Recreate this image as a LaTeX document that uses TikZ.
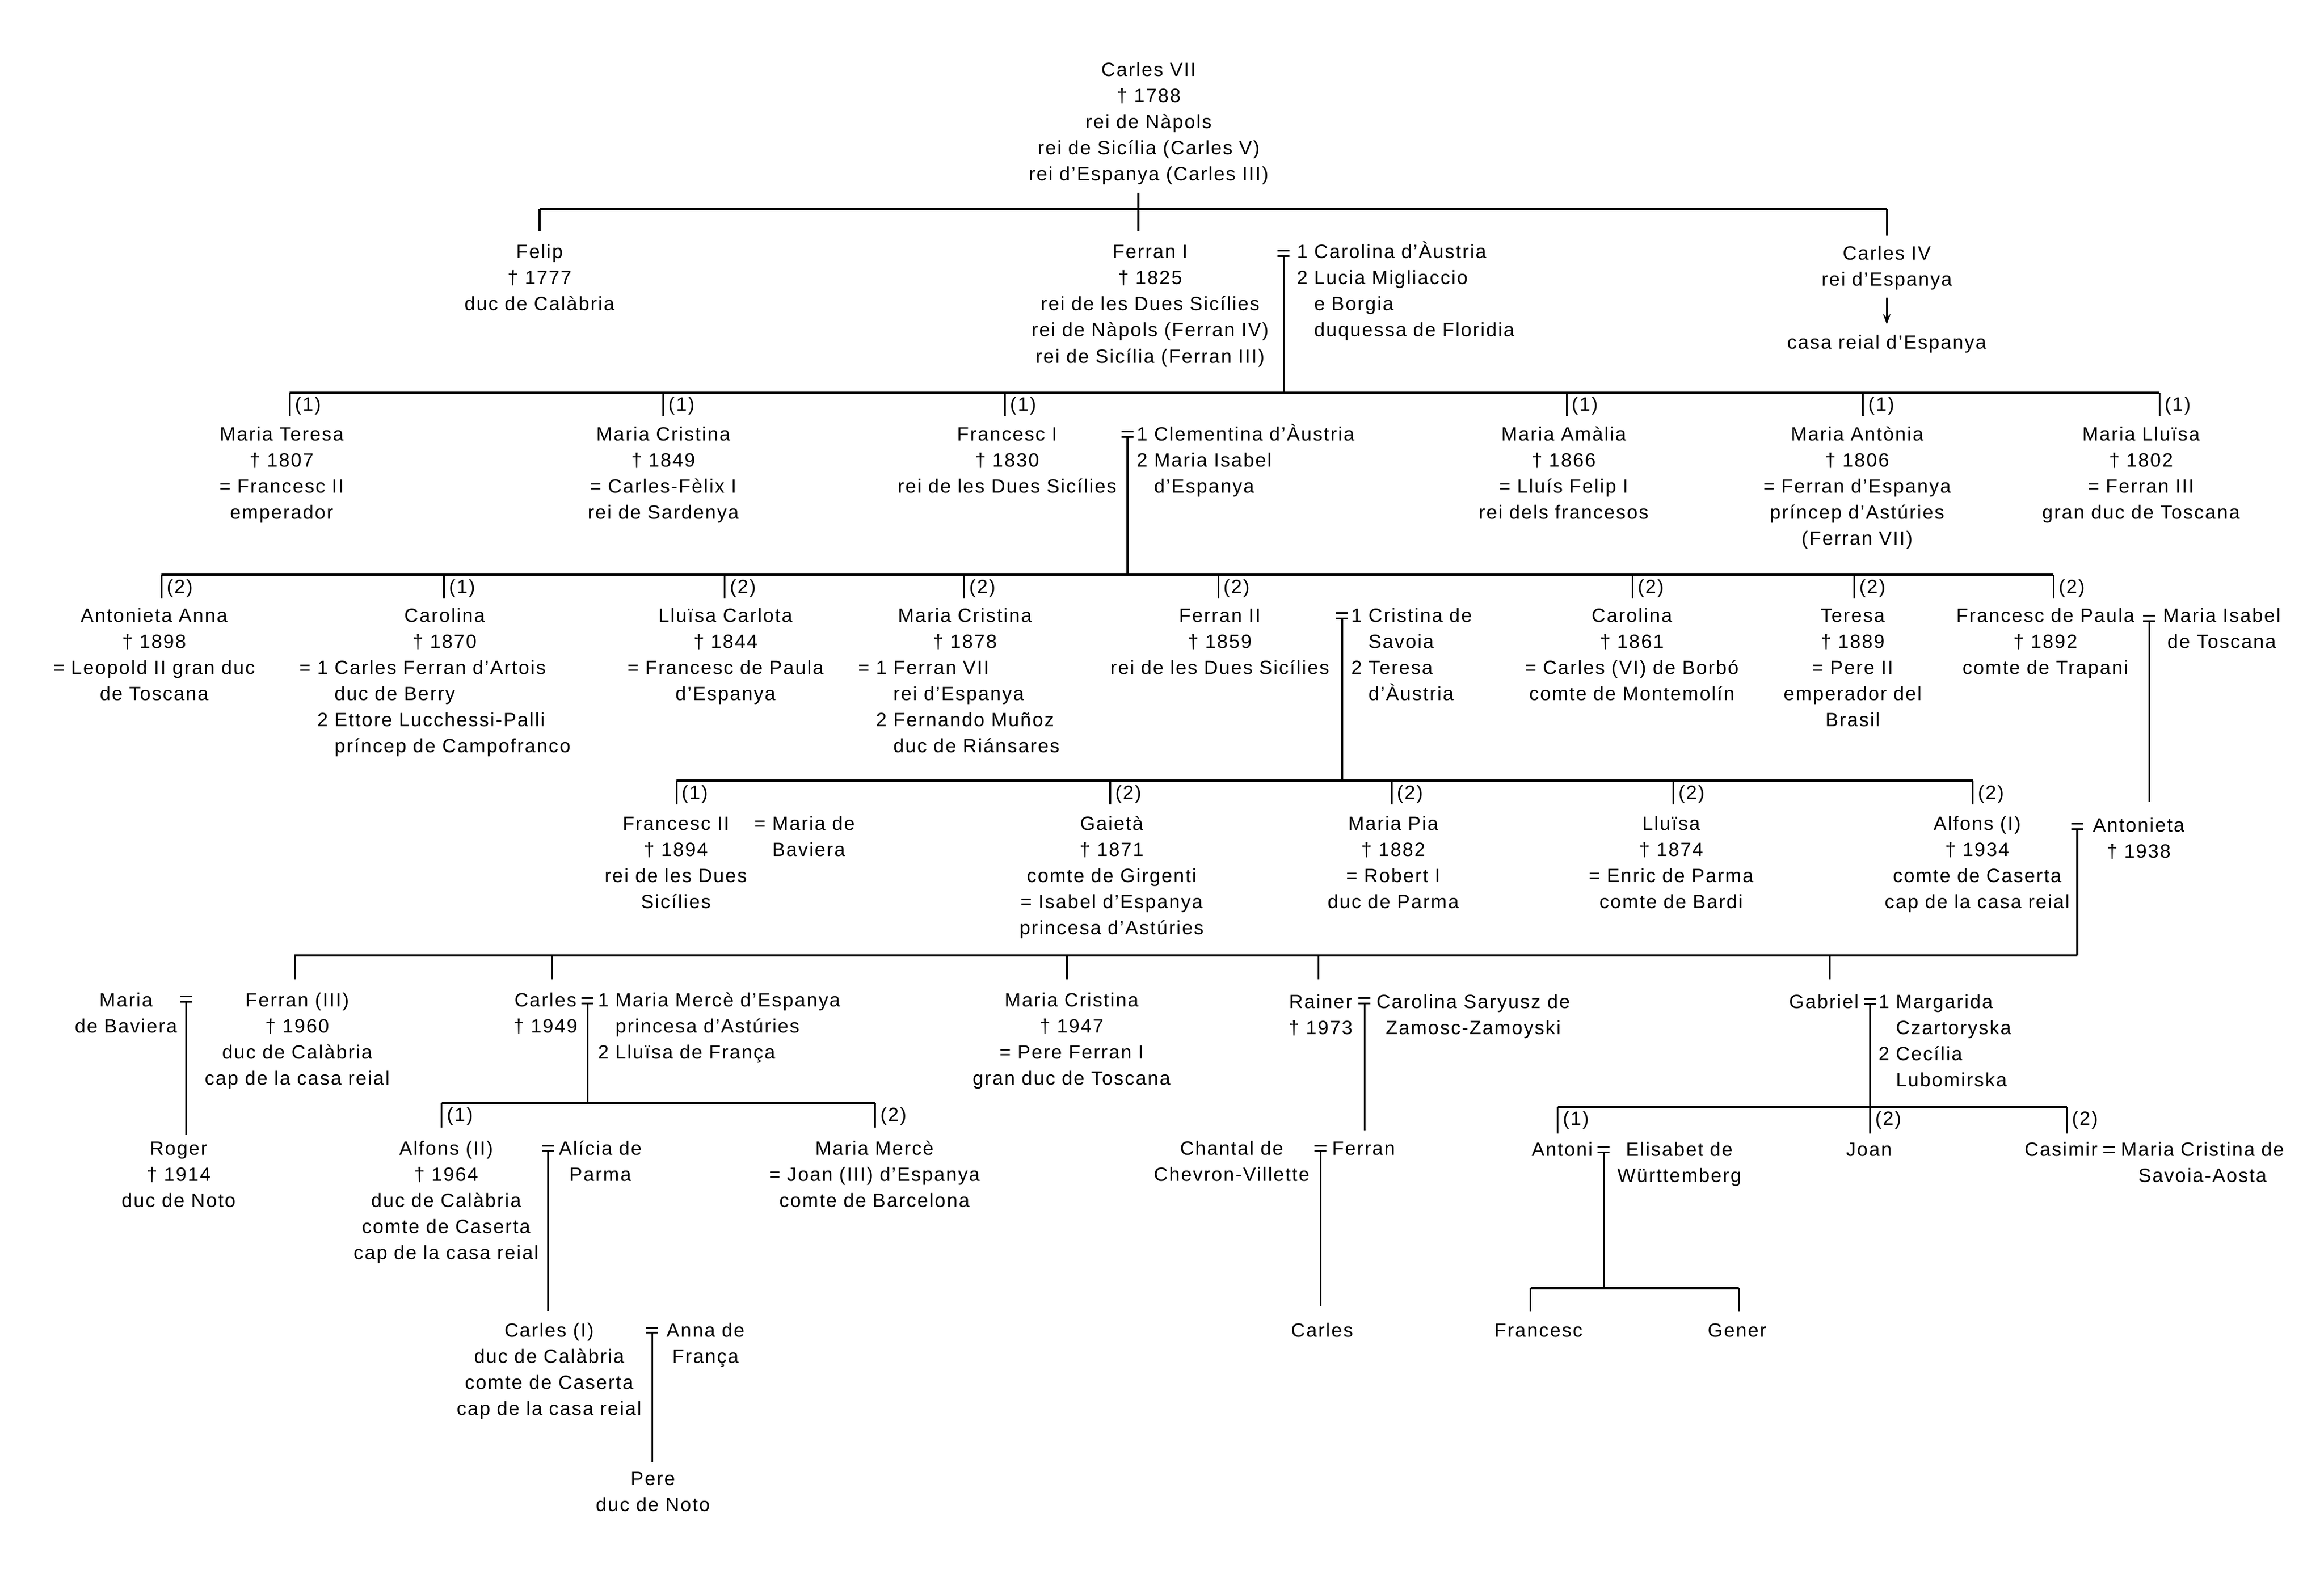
\documentclass[tikz,border=0pt]{standalone}
\usepackage{fontspec}
\setmainfont[LetterSpace=6.5]{Liberation Sans}
\usetikzlibrary{arrows.meta}
\newcommand\blk[2][c]{\begin{tabular}[t]{@{}#1@{}}#2\end{tabular}}
\begin{document}
\begin{tikzpicture}[x=1pt,y=-1pt,
  every node/.style={inner sep=0pt,outer sep=0pt,font=\fontsize{13}{17.6}\selectfont},
  pers/.style={anchor=base},
  spl/.style={anchor=base west},
  lab/.style={anchor=base west},
  ln/.style={line width=1.2pt},
  barline/.style={line width=1.5pt},
  marr/.pic={\draw[line width=1.1pt] (-4,0) -- (4,0) (-4,-3.6) -- (4,-3.6);}
]
\fill[white] (0,0) rectangle (1568,1061.7);
\useasboundingbox (0,0) rectangle (1568,1061.7);

% ---------- generation 0 ----------
\node[pers] (cVII) at (775,51.5) {\blk{Carles VII\\† 1788\\rei de Nàpols\\rei de Sicília (Carles V)\\rei d’Espanya (Carles III)}};
\coordinate (cVIIb) at (768,130);
\coordinate (cVIId) at (768,156);
\coordinate (b1L) at (364,141);
\coordinate (b1R) at (1273,141);
\draw[barline] (b1L) -- (b1R);
\draw[ln] (cVIIb) -- (cVIId);
\draw[ln] (b1L) -- ++(0,15);
\draw[ln] (b1R) -- ++(0,18);

% ---------- generation 1 ----------
\node[pers] (felip) at (364,174.5) {\blk{Felip\\† 1777\\duc de Calàbria}};
\node[pers] (ferranI) at (776,174.5) {\blk{Ferran I\\† 1825\\rei de les Dues Sicílies\\rei de Nàpols (Ferran IV)\\rei de Sicília (Ferran III)}};
\node[spl] (ferranIsp) at (875,174.5) {\blk[l]{1 Carolina d’Àustria\\2 Lucia Migliaccio\\\phantom{2 }e Borgia\\\phantom{2 }duquessa de Floridia}};
\coordinate (mFI) at (866,172.8);
\pic at (mFI) {marr};
\node[pers] (carlesIV) at (1273,175.5) {\blk{Carles IV\\rei d’Espanya}};
\coordinate (arA) at (1273,201);
\coordinate (arB) at (1273,219);
\draw[ln,-{Stealth[length=7pt,width=5pt]}] (arA) -- (arB);
\node[pers] (casaEsp) at (1273,235.5) {casa reial d’Espanya};

% bar 2
\coordinate (b2L) at (195.5,265);
\coordinate (b2R) at (1457,265);
\draw[barline] (b2L) -- (b2R);
\draw[ln] (mFI) -- (mFI |- b2L);
\foreach \x/\n [count=\i] in {195.5/1,447.5/1,678/1,1057/1,1257/1,1457/1}{
  \draw[ln] (\x,265) -- (\x,281);
  \node[lab] (labB\i) at (\x+3.5,277.5) {(\n)};
}

% ---------- generation 2 ----------
\node[pers] (mTeresa) at (190,297.5) {\blk{Maria Teresa\\† 1807\\= Francesc II\\emperador}};
\node[pers] (mCristinaA) at (447.5,297.5) {\blk{Maria Cristina\\† 1849\\= Carles-Fèlix I\\rei de Sardenya}};
\node[pers] (francescI) at (679.5,297.5) {\blk{Francesc I\\† 1830\\rei de les Dues Sicílies}};
\node[spl] (francescIsp) at (767,297.5) {\blk[l]{1 Clementina d’Àustria\\2 Maria Isabel\\\phantom{2 }d’Espanya}};
\coordinate (mFrI) at (760.7,294.8);
\pic at (mFrI) {marr};
\node[pers] (mAmalia) at (1055,297.5) {\blk{Maria Amàlia\\† 1866\\= Lluís Felip I\\rei dels francesos}};
\node[pers] (mAntonia) at (1253,297.5) {\blk{Maria Antònia\\† 1806\\= Ferran d’Espanya\\príncep d’Astúries\\(Ferran VII)}};
\node[pers] (mLluisa) at (1444.5,297.5) {\blk{Maria Lluïsa\\† 1802\\= Ferran III\\gran duc de Toscana}};

% bar 3
\coordinate (b3L) at (109,388);
\coordinate (b3R) at (1385.5,388);
\draw[barline] (b3L) -- (b3R);
\draw[ln] (mFrI) -- (mFrI |- b3L);
\foreach \x/\n [count=\i] in {109/2,299.5/1,489/2,650.5/2,822/2,1101.5/2,1251/2,1385.5/2}{
  \draw[ln] (\x,388) -- (\x,404);
  \node[lab] (labC\i) at (\x+3.5,400.5) {(\n)};
}

% ---------- generation 3 ----------
\node[pers] (antAnna) at (104,420) {\blk{Antonieta Anna\\† 1898\\= Leopold II gran duc\\de Toscana}};
\node[pers] (carolinaA) at (300,420) {\blk{Carolina\\† 1870}};
\node[spl] (carolinaAsp) at (202,455.2) {\blk[l]{= 1 Carles Ferran d’Artois\\\phantom{= 1 }duc de Berry\\\phantom{= }2 Ettore Lucchessi-Palli\\\phantom{= 2 }príncep de Campofranco}};
\node[pers] (lluisaCarlota) at (489.5,420) {\blk{Lluïsa Carlota\\† 1844\\= Francesc de Paula\\d’Espanya}};
\node[pers] (mCristinaB) at (651,420) {\blk{Maria Cristina\\† 1878}};
\node[spl] (mCristinaBsp) at (579,455.2) {\blk[l]{= 1 Ferran VII\\\phantom{= 1 }rei d’Espanya\\\phantom{= }2 Fernando Muñoz\\\phantom{= 2 }duc de Riánsares}};
\node[pers] (ferranII) at (823,420) {\blk{Ferran II\\† 1859\\rei de les Dues Sicílies}};
\node[spl] (ferranIIsp) at (911.7,420) {\blk[l]{1 Cristina de\\\phantom{1 }Savoia\\2 Teresa\\\phantom{2 }d’Àustria}};
\coordinate (mFII) at (905.5,417.5);
\pic at (mFII) {marr};
\node[pers] (carolinaB) at (1101,420) {\blk{Carolina\\† 1861\\= Carles (VI) de Borbó\\comte de Montemolín}};
\node[pers] (teresa) at (1250,420) {\blk{Teresa\\† 1889\\= Pere II\\emperador del\\Brasil}};
\node[pers] (fPaula) at (1380,420) {\blk{Francesc de Paula\\† 1892\\comte de Trapani}};
\coordinate (mFP) at (1450,419.3);
\pic at (mFP) {marr};
\node[pers] (mIsabel) at (1499,420) {\blk{Maria Isabel\\de Toscana}};

% bar 4
\coordinate (b4L) at (456.5,527);
\coordinate (b4R) at (1331,527);
\draw[barline] (b4L) -- (b4R);
\draw[ln] (mFII) -- (mFII |- b4L);
\foreach \x/\n [count=\i] in {456.5/1,749/2,939/2,1129/2,1331/2}{
  \draw[ln] (\x,527) -- (\x,543);
  \node[lab] (labD\i) at (\x+3.5,539.5) {(\n)};
}
\coordinate (antTop) at (1450,541);
\draw[ln] (mFP) -- (antTop);

% ---------- generation 4 ----------
\node[pers] (francescII) at (456,560.5) {\blk{Francesc II\\† 1894\\rei de les Dues\\Sicílies}};
\node[spl] (francescIIsp) at (509,560.5) {\blk[l]{= Maria de\\\phantom{= }Baviera}};
\node[pers] (gaieta) at (750,560.5) {\blk{Gaietà\\† 1871\\comte de Girgenti\\= Isabel d’Espanya\\princesa d’Astúries}};
\node[pers] (mPia) at (940,560.5) {\blk{Maria Pia\\† 1882\\= Robert I\\duc de Parma}};
\node[pers] (lluisa) at (1127.5,560.5) {\blk{Lluïsa\\† 1874\\= Enric de Parma\\comte de Bardi}};
\node[pers] (alfonsI) at (1334,560.5) {\blk{Alfons (I)\\† 1934\\comte de Caserta\\cap de la casa reial}};
\node[pers] (antonieta) at (1443,561.5) {\blk{Antonieta\\† 1938}};
\coordinate (mAnt) at (1401.5,559.6);
\pic at (mAnt) {marr};

% bar 5
\coordinate (b5L) at (198.8,645);
\coordinate (b5R) at (1401.5,645);
\draw[barline] (b5L) -- (b5R);
\draw[ln] (mAnt) -- (b5R);
\foreach \x [count=\i] in {198.8,372.7,720,889.5,1234.5}{
  \draw[ln] (\x,645) -- (\x,661);
}

% ---------- generation 5 ----------
\node[pers] (mBaviera) at (85,679.5) {\blk{Maria\\de Baviera}};
\coordinate (mFIII) at (125.6,676.3);
\pic at (mFIII) {marr};
\node[pers] (ferranIII) at (200.5,679.5) {\blk{Ferran (III)\\† 1960\\duc de Calàbria\\cap de la casa reial}};
\coordinate (rogerTop) at (125.6,766);
\draw[ln] (mFIII) -- (rogerTop);
\node[pers] (roger) at (120.5,779.5) {\blk{Roger\\† 1914\\duc de Noto}};

\node[pers] (carles) at (368,679.5) {\blk{Carles\\† 1949}};
\coordinate (mC) at (396.4,677.3);
\pic at (mC) {marr};
\node[spl] (carlessp) at (403.5,679.5) {\blk[l]{1 Maria Mercè d’Espanya\\\phantom{1 }princesa d’Astúries\\2 Lluïsa de França}};

\node[pers] (mCristinaC) at (723,679.5) {\blk{Maria Cristina\\† 1947\\= Pere Ferran I\\gran duc de Toscana}};

\node[pers] (rainer) at (891,680.5) {\blk{Rainer\\† 1973}};
\coordinate (mR) at (920.7,677.4);
\pic at (mR) {marr};
\node[pers] (rainersp) at (994,680.5) {\blk{Carolina Saryusz de\\Zamosc-Zamoyski}};
\coordinate (ferranTop) at (920.7,763);
\draw[ln] (mR) -- (ferranTop);

\node[pers] (gabriel) at (1230.6,680.5) {Gabriel};
\coordinate (mG) at (1261.7,677.8);
\pic at (mG) {marr};
\node[spl] (gabrielsp) at (1267.5,680.5) {\blk[l]{1 Margarida\\\phantom{1 }Czartoryska\\2 Cecília\\\phantom{2 }Lubomirska}};

% bar 6
\coordinate (b6L) at (298,744.6);
\coordinate (b6R) at (590.5,744.6);
\draw[barline] (b6L) -- (b6R);
\draw[ln] (mC) -- (mC |- b6L);
\foreach \x/\n [count=\i] in {298/1,590.5/2}{
  \draw[ln] (\x,744.6) -- (\x,761);
  \node[lab] (labE\i) at (\x+3.5,757) {(\n)};
}

% bar 7
\coordinate (b7L) at (1051,747);
\coordinate (b7R) at (1394.4,747);
\draw[barline] (b7L) -- (b7R);
\draw[ln] (mG) -- (mG |- b7L);
\foreach \x/\n [count=\i] in {1051/1,1261.7/2,1394.4/2}{
  \draw[ln] (\x,747) -- (\x,765);
  \node[lab] (labF\i) at (\x+3.5,759.5) {(\n)};
}

% ---------- generation 6 ----------
\node[pers] (alfonsII) at (301,779.5) {\blk{Alfons (II)\\† 1964\\duc de Calàbria\\comte de Caserta\\cap de la casa reial}};
\coordinate (mAII) at (369.8,776.8);
\pic at (mAII) {marr};
\node[pers] (alicia) at (405,779.5) {\blk{Alícia de\\Parma}};
\coordinate (carlesITop) at (369.8,885);
\draw[ln] (mAII) -- (carlesITop);

\node[pers] (mMerce) at (590,779.5) {\blk{Maria Mercè\\= Joan (III) d’Espanya\\comte de Barcelona}};

\node[pers] (chantal) at (831,779.5) {\blk{Chantal de\\Chevron-Villette}};
\coordinate (mFe) at (891,776.8);
\pic at (mFe) {marr};
\node[pers] (ferran) at (920,779.5) {Ferran};
\coordinate (carlesRTop) at (891,881.6);
\draw[ln] (mFe) -- (carlesRTop);
\node[pers] (carlesR) at (892,902.5) {Carles};

\node[pers] (antoni) at (1054,780.5) {Antoni};
\coordinate (mAn) at (1082,777.8);
\pic at (mAn) {marr};
\node[pers] (elisabet) at (1133,780.5) {\blk{Elisabet de\\Württemberg}};
\node[pers] (joan) at (1261,780.5) {Joan};
\node[pers] (casimir) at (1390.6,780.5) {Casimir};
\coordinate (mCas) at (1423,777.8);
\pic at (mCas) {marr};
\node[pers] (mcSavoia) at (1486,780.5) {\blk{Maria Cristina de\\Savoia-Aosta}};

% bar 8
\coordinate (b8L) at (1032.6,869.4);
\coordinate (b8R) at (1173.3,869.4);
\draw[barline] (b8L) -- (b8R);
\draw[ln] (mAn) -- (mAn |- b8L);
\draw[ln] (b8L) -- ++(0,16);
\draw[ln] (b8R) -- ++(0,16);
\node[pers] (francesc) at (1038,902.5) {Francesc};
\node[pers] (gener) at (1172,902.5) {Gener};

% ---------- generation 7 ----------
\node[pers] (carlesI) at (370.5,902.5) {\blk{Carles (I)\\duc de Calàbria\\comte de Caserta\\cap de la casa reial}};
\coordinate (mCI) at (440,899.6);
\pic at (mCI) {marr};
\node[pers] (anna) at (476,902.5) {\blk{Anna de\\França}};
\coordinate (pereTop) at (440,987);
\draw[ln] (mCI) -- (pereTop);
\node[pers] (pere) at (440.5,1002.5) {\blk{Pere\\duc de Noto}};
\end{tikzpicture}
\end{document}
